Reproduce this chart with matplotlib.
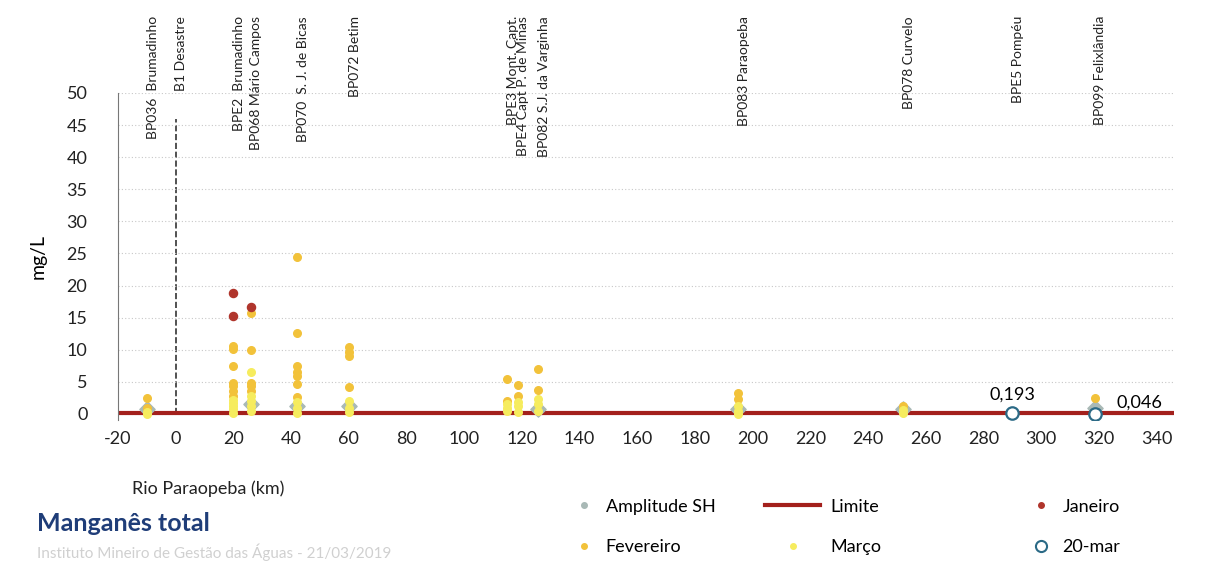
import matplotlib
matplotlib.use("Agg")
import matplotlib.pyplot as plt
from matplotlib.lines import Line2D

plt.rcParams['font.family'] = ['Lato', 'DejaVu Sans']
plt.rcParams['axes.unicode_minus'] = False

# station labels and river km
stations = ['BP036  Brumadinho', 'B1 Desastre', 'BPE2  Brumadinho', 'BP068 Mário Campos',
            'BP070  S. J. de Bicas', 'BP072 Betim', 'BPE3 Mont. Capt.', 'BPE4 Capt P. de Minas',
            'BP082 S.J. da Varginha', 'BP083 Paraopeba', 'BP078 Curvelo', 'BPE5 Pompéu',
            'BP099 Felixlândia']
station_km = [-10, 0, 20, 26, 42, 60, 115, 118.5, 125.5, 195, 252, 290, 318.5]
desastre_km = 0
limite = 0.1

# Amplitude SH (historical)
amp_km = [-10, 26, 42, 60, 125.5, 195, 252, 318.5]
amp_val = [0.8, 1.5, 1.3, 1.3, 0.8, 0.7, 0.8, 1.0]

# Janeiro
jan_km = [20, 20, 26]
jan_val = [18.8, 15.3, 16.6]

# Fevereiro
fev_km = [-10, -10,
          20, 20, 20, 20, 20, 20, 20,
          26, 26, 26, 26, 26,
          42, 42, 42, 42, 42, 42, 42,
          60, 60, 60, 60,
          115, 115, 118.5, 118.5, 125.5, 125.5,
          195, 195, 252, 318.5]
fev_val = [2.5, 1.0,
           10.6, 10.1, 7.4, 4.9, 4.3, 3.5, 2.8,
           15.8, 10.0, 4.9, 4.3, 3.6,
           24.5, 12.6, 7.4, 6.6, 5.9, 4.6, 2.7,
           10.4, 9.7, 9.0, 4.2,
           5.4, 2.0, 4.5, 2.8, 7.0, 3.7,
           3.2, 2.3, 1.2, 2.5]

# Março
mar_km = [-10, -10,
          20, 20, 20, 20, 20,
          26, 26, 26, 26, 26,
          42, 42, 42,
          60, 60, 60,
          115, 115, 115, 118.5, 118.5, 118.5, 125.5, 125.5, 125.5,
          195, 195, 195, 252, 252]
mar_val = [0.3, 0.0,
           2.2, 1.7, 1.2, 0.7, 0.2,
           6.6, 2.8, 2.0, 1.2, 0.5,
           1.9, 0.9, 0.2,
           2.0, 0.9, 0.3,
           1.5, 1.0, 0.4, 1.9, 1.2, 0.3, 2.3, 1.5, 0.5,
           1.2, 0.4, 0.0, 0.6, 0.1]

# 20-mar
m20_km = [290, 318.5]
m20_val = [0.193, 0.046]
m20_txt = ['0,193', '0,046']

c_amp = '#a9b9b6'
c_jan = '#b0352c'
c_fev = '#f2c23a'
c_mar = '#f6ec5e'
c_lim = '#a3201c'
c_m20 = '#2b6a86'

fig = plt.figure(figsize=(12.24, 5.68), dpi=100)
ax = fig.add_axes([0.0964, 0.2599, 0.8627, 0.5764])

ax.set_xlim(-20, 346)
ax.set_ylim(-1, 50)
ax.set_xticks(range(-20, 341, 20))
ax.set_yticks(range(0, 51, 5))
ax.tick_params(length=0, labelsize=13, colors='#222222', pad=8)
ax.tick_params(axis='y', pad=22)
ax.yaxis.grid(True, linestyle=(0, (1, 2)), color='#c8c8c8', linewidth=0.8)
for s in ['top', 'right', 'bottom']:
    ax.spines[s].set_visible(False)
ax.spines['left'].set_color('#777777')
ax.spines['left'].set_linewidth(0.8)
ax.set_ylabel('mg/L', fontsize=14, labelpad=14)

ax.plot([desastre_km, desastre_km], [0, 46], color='#333333', linestyle='--', linewidth=1.2, zorder=1)
ax.axhline(limite, color=c_lim, linewidth=3, zorder=2)

ax.scatter(amp_km, amp_val, marker='D', s=60, color=c_amp, zorder=3)
ax.scatter(fev_km, fev_val, s=30, color=c_fev, zorder=4)
ax.scatter(mar_km, mar_val, s=30, color=c_mar, zorder=4)
ax.scatter(jan_km, jan_val, s=34, color=c_jan, zorder=5)
ax.scatter(m20_km, m20_val, s=80, facecolor='white', edgecolor=c_m20, linewidth=1.6, zorder=6)

ax.annotate(m20_txt[0], (m20_km[0], m20_val[0]), xytext=(0, 7), textcoords='offset points',
            ha='center', va='bottom', fontsize=13)
ax.annotate(m20_txt[1], (m20_km[1], m20_val[1]), xytext=(16, 2), textcoords='offset points',
            ha='left', va='bottom', fontsize=13)

for name, km in zip(stations, station_km):
    ax.text(km + 2, 1.235, name, rotation=90, ha='center', va='top', fontsize=10,
            color='#222222', transform=ax.get_xaxis_transform(), clip_on=False)

fig.text(0.108, 0.13, 'Rio Paraopeba (km)', fontsize=13, color='#222222')
fig.text(0.03, 0.065, 'Manganês total', fontsize=18, fontweight='bold', color='#1f3d78')
fig.text(0.03, 0.018, 'Instituto Mineiro de Gestão das Águas - 21/03/2019', fontsize=11,
         color='#d0d0d0')

h_amp = Line2D([], [], marker='o', linestyle='', color=c_amp, markersize=4)
h_fev = Line2D([], [], marker='o', linestyle='', color=c_fev, markersize=4)
h_lim = Line2D([], [], color=c_lim, linewidth=3)
h_mar = Line2D([], [], marker='o', linestyle='', color=c_mar, markersize=4)
h_jan = Line2D([], [], marker='o', linestyle='', color=c_jan, markersize=4)
h_m20 = Line2D([], [], marker='o', linestyle='', markerfacecolor='white',
               markeredgecolor=c_m20, markeredgewidth=1.5, markersize=8)

leg_kw = dict(loc='upper left', frameon=False, fontsize=13, labelspacing=1.35,
              handletextpad=0.6, borderpad=0)
fig.legend([h_amp, h_fev], ['Amplitude SH', 'Fevereiro'], bbox_to_anchor=(0.461, 0.138),
           handlelength=1.2, **leg_kw)
fig.legend([h_lim, h_mar], ['Limite', 'Março'], bbox_to_anchor=(0.618, 0.138),
           handlelength=3.0, **leg_kw)
fig.legend([h_jan, h_m20], ['Janeiro', '20-mar'], bbox_to_anchor=(0.834, 0.138),
           handlelength=1.2, **leg_kw)

fig.savefig('out.png', dpi=100)
